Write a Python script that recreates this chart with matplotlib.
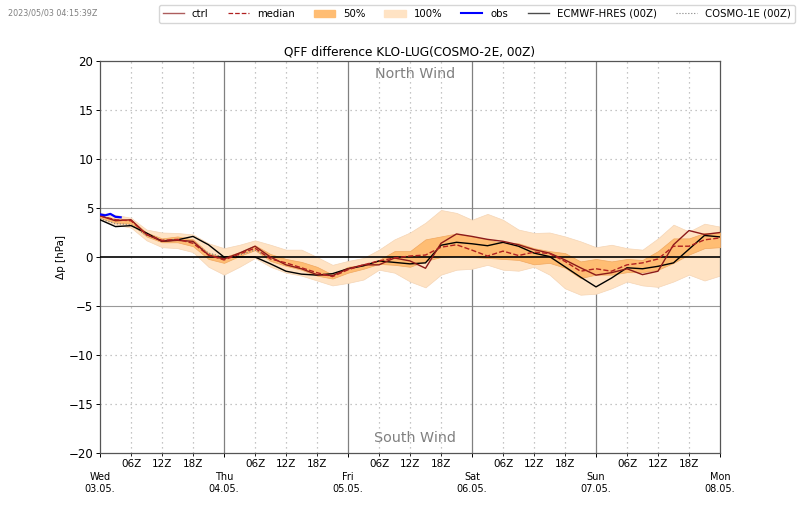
"""QFF difference KLO-LUG ensemble plume."""

import matplotlib
matplotlib.use('Agg')
import matplotlib.pyplot as plt
from matplotlib.patches import Patch
from matplotlib.lines import Line2D

HOURS = [0, 3, 6, 9, 12, 15, 18, 21, 24, 27, 30, 33, 36, 39, 42, 45, 48, 51, 54, 57,
         60, 63, 66, 69, 72, 75, 78, 81, 84, 87, 90, 93, 96, 99, 102, 105, 108, 111,
         114, 117, 120]

upper_100 = [4.5, 4.3, 4.0, 2.8, 2.5, 2.45, 2.3, 1.4, 0.9, 1.25, 1.7, 1.25, 0.75, 0.75, 0.0,
             -0.8, -0.4, -0.1, 0.75, 1.8, 2.5, 3.5, 4.8, 4.5, 3.8, 4.4, 3.8, 2.8, 2.45,
             2.5, 2.1, 1.6, 1.0, 1.25, 0.9, 0.75, 1.9, 3.3, 2.6, 3.4, 3.1]
lower_100 = [3.8, 3.3, 3.0, 1.7, 1.0, 0.9, 0.5, -1.0, -1.8, -1.0, -0.1, -1.0, -1.6, -1.9, -2.4,
             -2.9, -2.65, -2.3, -1.3, -1.6, -2.5, -3.1, -1.8, -1.3, -1.2, -0.8, -1.3, -1.4, -1.0,
             -1.8, -3.2, -3.85, -3.75, -3.2, -2.5, -2.9, -3.05, -2.5, -1.8, -2.4, -1.9]
upper_50 = [4.2, 3.9, 3.8, 2.5, 1.9, 2.1, 1.8, 0.4, 0.0, 0.5, 1.2, 0.3, -0.2, -0.5, -1.0,
            -1.8, -1.0, -0.8, -0.3, 0.6, 0.6, 1.8, 2.1, 2.4, 2.1, 1.8, 1.4, 1.4, 0.9,
            0.6, 0.4, -0.45, -0.2, -0.45, -0.2, -0.3, 0.6, 1.9, 1.9, 2.45, 2.5]
lower_50 = [4.0, 3.5, 3.4, 2.1, 1.5, 1.5, 1.1, -0.2, -0.6, 0.1, 0.7, -0.4, -0.9, -1.3, -1.9,
            -2.2, -1.6, -1.2, -0.7, -0.8, -1.0, -0.4, 0.0, 0.1, 0.0, -0.1, -0.2, -0.3, -0.75,
            -0.6, -1.1, -2.15, -1.8, -1.8, -1.55, -1.55, -1.3, -0.6, 0.25, 0.9, 1.0]
median = [4.2, 3.8, 3.7, 2.3, 1.7, 1.8, 1.4, 0.2, -0.3, 0.3, 0.9, -0.2, -0.6, -1.1, -1.6,
          -2.0, -1.3, -0.8, -0.4, -0.1, 0.1, 0.2, 1.0, 1.25, 0.7, 0.1, 0.6, 0.15, 0.5,
          0.35, -0.45, -1.45, -1.2, -1.45, -0.8, -0.6, -0.2, 1.1, 1.1, 1.75, 1.95]
ctrl = [4.2, 3.7, 3.8, 2.3, 1.6, 1.7, 1.6, 0.2, -0.2, 0.4, 1.1, 0.0, -0.8, -1.2, -1.8,
        -1.9, -1.2, -0.8, -0.8, -0.1, -0.4, -1.15, 1.4, 2.35, 2.1, 1.8, 1.6, 1.25, 0.75,
        0.4, -0.3, -1.1, -1.85, -1.6, -1.2, -1.8, -1.45, 1.25, 2.7, 2.3, 2.5]
hres = [3.8, 3.1, 3.2, 2.45, 1.6, 1.75, 2.1, 1.25, 0.0, 0.0, 0.0, -0.7, -1.45, -1.75, -1.85,
        -1.7, -1.2, -0.9, -0.4, -0.55, -0.7, -0.6, 1.2, 1.5, 1.35, 1.15, 1.5, 1.1, 0.4,
        0.05, -1.0, -2.05, -3.05, -2.15, -1.1, -1.2, -0.95, -0.6, 0.8, 2.2, 2.05]

cosmo1_hours = [0, 3, 6, 9, 12, 15, 18, 21, 24, 27, 30, 33]
cosmo1 = [3.9, 3.4, 3.3, 2.2, 1.7, 1.8, 1.5, 0.4, 0.0, 0.2, 0.7, -0.1]

obs_hours = [0, 1, 2, 3, 4]
obs = [4.35, 4.25, 4.4, 4.1, 4.05]

DAY_HOURS = [0, 24, 48, 72, 96, 120]
DAY_LABELS = ['Wed\n03.05.', 'Thu\n04.05.', 'Fri\n05.05.', 'Sat\n06.05.', 'Sun\n07.05.', 'Mon\n08.05.']
SYN_HOURS = [6, 12, 18, 30, 36, 42, 54, 60, 66, 78, 84, 90, 102, 108, 114]
SYN_LABELS = ['06Z', '12Z', '18Z'] * 5
Y_TICKS = [-20, -15, -10, -5, 0, 5, 10, 15, 20]

DOTS = (0, (1, 3))

fig = plt.figure(figsize=(8.0, 5.09), dpi=100)
ax = fig.add_axes([100 / 800, 1 - 453 / 509, 620 / 800, 392 / 509])

ax.fill_between(HOURS, lower_100, upper_100, facecolor='#ffe3c4', linewidth=0.5, edgecolor='#f5d5b5', zorder=2)
ax.fill_between(HOURS, lower_50, upper_50, facecolor='#ffbd73', linewidth=0.5, edgecolor='#f0a860', zorder=3)
ax.plot(cosmo1_hours, cosmo1, color='gray', linestyle=':', linewidth=0.8, zorder=4)
ax.plot(HOURS, hres, color='black', linewidth=1.0, zorder=5)
ax.plot(HOURS, ctrl, color='#8b1a1a', linewidth=1.0, zorder=6)
ax.plot(HOURS, median, color='#b02020', linestyle='--', linewidth=1.0, zorder=6)
ax.plot(obs_hours, obs, color='blue', linewidth=1.6, zorder=7)

ax.axhline(0, color='black', linewidth=1.2, zorder=5)
for y in [-5, 5]:
    ax.axhline(y, color='#999999', linewidth=0.8, zorder=1)
for y in [-15, -10, 10, 15]:
    ax.axhline(y, color='gray', linestyle=DOTS, linewidth=0.9, alpha=0.6, zorder=1)
for h in DAY_HOURS[1:-1]:
    ax.axvline(h, color='gray', linewidth=0.9, zorder=1)
for h in SYN_HOURS:
    ax.axvline(h, color='gray', linestyle=DOTS, linewidth=0.9, alpha=0.6, zorder=1)

ax.set_xlim(0, 120)
ax.set_ylim(-20, 20)
ax.set_yticks(Y_TICKS)
ax.set_yticklabels(['\u221220', '\u221215', '\u221210', '\u22125', '0', '5', '10', '15', '20'])
ax.set_xticks(DAY_HOURS)
ax.set_xticklabels(DAY_LABELS, linespacing=1.3)
ax.set_xticks(SYN_HOURS, minor=True)
ax.set_xticklabels(SYN_LABELS, minor=True)
ax.tick_params(axis='x', which='major', labelsize=7, pad=10.5, length=3, width=0.7)
ax.tick_params(axis='x', which='minor', labelsize=7.5, pad=2, length=2, width=0.6)
ax.tick_params(axis='y', labelsize=8.5, length=3, width=0.7, pad=2)
for s in ax.spines.values():
    s.set_color('#555555')
    s.set_linewidth(0.9)

ax.set_ylabel('\u0394p [hPa]', fontsize=7.5, labelpad=2)
ax.set_title('QFF difference KLO-LUG(COSMO-2E, 00Z)', fontsize=8.7, pad=4)
ax.text(61, 18.7, 'North Wind', color='gray', fontsize=10.3, ha='center', va='center')
ax.text(61, -18.5, 'South Wind', color='gray', fontsize=10.3, ha='center', va='center')

fig.text(8 / 800, 1 - 13 / 509, '2023/05/03 04:15:39Z', color='gray', fontsize=5.8, va='center')

handles = [
    Line2D([], [], color='#8b1a1a', linewidth=1.0, alpha=0.7),
    Line2D([], [], color='#b02020', linestyle='--', linewidth=0.9),
    Patch(color='#ffbd73'),
    Patch(color='#ffe3c4'),
    Line2D([], [], color='blue', linewidth=1.5),
    Line2D([], [], color='black', linewidth=1.0, alpha=0.7),
    Line2D([], [], color='gray', linestyle=':', linewidth=0.8),
]
labels = ['ctrl', 'median', '50%', '100%', 'obs', 'ECMWF-HRES (00Z)', 'COSMO-1E (00Z)']
fig.legend(handles, labels, ncol=7, fontsize=7.25, loc='center right',
           bbox_to_anchor=(795 / 800, 1 - 14 / 509), borderpad=0.4, handlelength=2.1,
           columnspacing=1.9, handletextpad=0.8, borderaxespad=0)

fig.savefig('out.png', dpi=100)
plt.close(fig)
